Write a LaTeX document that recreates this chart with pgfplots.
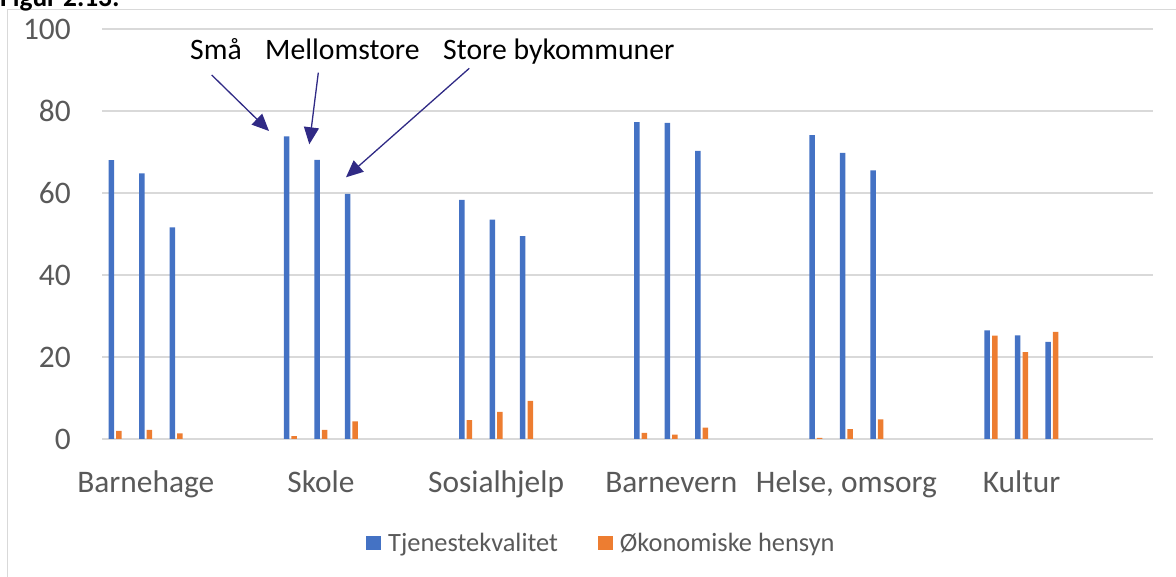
\documentclass[border=0pt]{standalone}
\usepackage{fontspec}
\setmainfont{Carlito}
\usepackage{pgfplots}
\pgfplotsset{compat=1.18}
\usetikzlibrary{arrows.meta}
\definecolor{xblue}{HTML}{4472C4}
\definecolor{xorange}{HTML}{ED7D31}
\definecolor{xgrid}{HTML}{D9D9D9}
\definecolor{xtext}{HTML}{595959}
\definecolor{xarrow}{HTML}{302A85}
\begin{document}
\begin{tikzpicture}
\useasboundingbox (0bp,0bp) rectangle (1176bp,577bp);
\clip (0bp,0bp) rectangle (1176bp,577bp);
\draw[xgrid, line width=1.5bp] (7.5bp,-10bp) -- (7.5bp,567.5bp) -- (1190bp,567.5bp);
\node[anchor=base west, inner sep=0pt, font=\fontsize{27.5}{32}\selectfont\bfseries] at (0bp,570.5bp) {Figur 2.13:};
\begin{axis}[
  at={(102bp,138bp)}, anchor=south west,
  scale only axis, width=1051bp, height=410bp,
  xmin=0, xmax=6, ymin=0, ymax=100,
  ytick={0,20,40,60,80,100},
  xtick={0.25,1.25,2.25,3.25,4.25,5.25},
  xticklabels={Barnehage,Skole,Sosialhjelp,Barnevern,{Helse, omsorg},Kultur},
  axis line style={draw=none},
  major tick length=0pt,
  ymajorgrids,
  grid style={xgrid, line width=1.5bp},
  tick label style={font=\fontsize{31.5}{37}\selectfont, text=xtext},
  yticklabel style={anchor=east, inner sep=0pt, xshift=-31bp},
  xticklabel style={anchor=base, inner sep=0pt, yshift=-53bp},
  /pgf/number format/assume math mode=true,
  legend columns=2,
  legend cell align=left,
  legend style={at={(0.2512,-0.2537)}, anchor=west, draw=none, fill=none,
    inner sep=0pt, font=\fontsize{26.5}{31}\selectfont, text=xtext,
    nodes={inner sep=0pt},
    column sep=7bp,
    /tikz/every even column/.append style={column sep=40bp}},
]
\addplot[ybar, bar width=5.5bp, bar shift=0pt, fill=xblue, draw=none,
  legend image code/.code={\fill[xblue] (0bp,-7bp) rectangle (15bp,7bp);}]
  coordinates {
  (0.054,68.0) (0.228,64.8) (0.402,51.6)
  (1.054,73.8) (1.228,68.1) (1.402,59.8)
  (2.054,58.3) (2.228,53.5) (2.402,49.5)
  (3.054,77.3) (3.228,77.1) (3.402,70.3)
  (4.054,74.1) (4.228,69.8) (4.402,65.5)
  (5.054,26.5) (5.228,25.3) (5.402,23.7)
  };
\addlegendentry{Tjenestekvalitet}
\addplot[ybar, bar width=5.5bp, bar shift=0pt, fill=xorange, draw=none,
  legend image code/.code={\fill[xorange] (0bp,-7bp) rectangle (15bp,7bp);}]
  coordinates {
  (0.097,2.0) (0.271,2.2) (0.445,1.4)
  (1.097,0.7) (1.271,2.2) (1.445,4.3)
  (2.097,4.6) (2.271,6.6) (2.445,9.3)
  (3.097,1.5) (3.271,1.05) (3.445,2.8)
  (4.097,0.3) (4.271,2.4) (4.445,4.8)
  (5.097,25.2) (5.271,21.2) (5.445,26.1)
  };
\addlegendentry{Økonomiske hensyn}
\end{axis}
\begin{scope}[font=\fontsize{29.8}{35}\selectfont]
\node[anchor=base west, inner sep=0pt] at (190bp,517bp) {Små};
\node[anchor=base west, inner sep=0pt] at (265bp,517bp) {Mellomstore};
\node[anchor=base west, inner sep=0pt] at (443bp,517bp) {Store bykommuner};
\end{scope}
\begin{scope}[xarrow, line width=1.3bp, -{Triangle[length=17bp, width=15bp]}]
\draw (211.7bp,502bp) -- (269bp,446bp);
\draw (318.3bp,504.3bp) -- (309.3bp,432.7bp);
\draw (469.3bp,508.7bp) -- (346bp,399.7bp);
\end{scope}
\end{tikzpicture}
\end{document}
